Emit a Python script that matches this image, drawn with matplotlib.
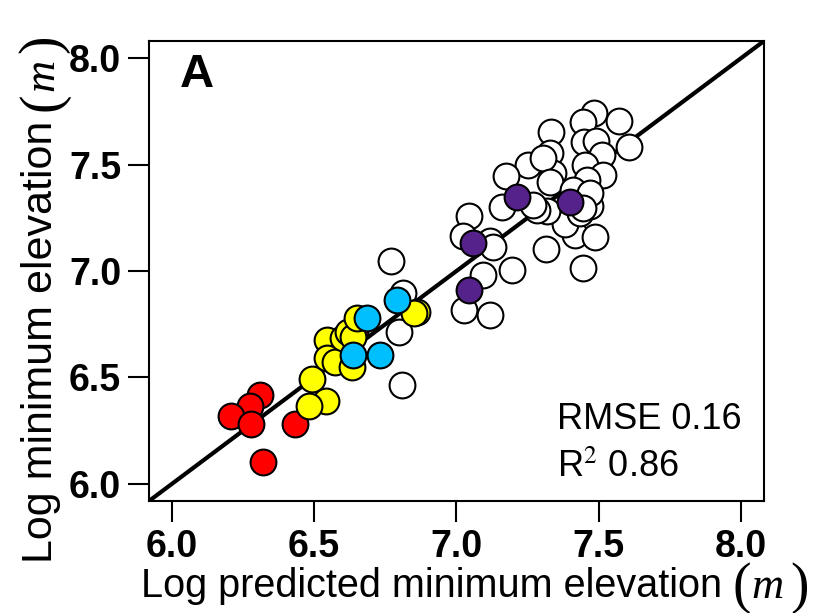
import matplotlib
matplotlib.use("Agg")
import matplotlib.pyplot as plt
from matplotlib.transforms import IdentityTransform

plt.rcParams['font.family'] = ['Liberation Sans', 'DejaVu Sans']
plt.rcParams['mathtext.fontset'] = 'stix'

# Data (log predicted, log observed) by group
red_x = [6.645, 6.310, 6.275, 6.208, 6.278, 6.433, 6.320]
red_y = [6.715, 6.418, 6.366, 6.319, 6.282, 6.282, 6.103]

yellow_x = [6.492, 6.541, 6.482, 6.545, 6.545, 6.573, 6.601, 6.618, 6.636, 6.632, 6.650, 6.861, 6.850]
yellow_y = [6.493, 6.390, 6.366, 6.676, 6.592, 6.573, 6.685, 6.714, 6.690, 6.549, 6.779, 6.808, 6.803]

blue_x = [6.686, 6.636, 6.731, 6.791]
blue_y = [6.779, 6.606, 6.606, 6.864]

white_x = [6.769, 6.811, 6.797, 6.808, 7.043, 7.022, 7.117, 7.127, 7.092, 7.194,
           7.026, 7.117, 7.313, 7.443, 7.415, 7.485, 7.380, 7.317, 7.282, 7.159,
           7.433, 7.468, 7.482, 7.443, 7.570, 7.331, 7.447, 7.489, 7.605, 7.327,
           7.510, 7.250, 7.450, 7.513, 7.173, 7.338, 7.303, 7.457, 7.327, 7.408,
           7.468, 7.443, 7.268]
white_y = [7.047, 6.897, 6.714, 6.465, 7.258, 7.164, 7.141, 7.113, 6.981, 7.005,
           6.817, 6.793, 7.103, 7.014, 7.169, 7.160, 7.221, 7.282, 7.286, 7.300,
           7.272, 7.305, 7.742, 7.700, 7.704, 7.653, 7.606, 7.610, 7.582, 7.554,
           7.545, 7.498, 7.498, 7.451, 7.446, 7.460, 7.531, 7.427, 7.418, 7.380,
           7.366, 7.296, 7.310]

purple_x = [7.212, 7.398, 7.057, 7.043]
purple_y = [7.347, 7.324, 7.131, 6.911]

ticks = [6.0, 6.5, 7.0, 7.5, 8.0]
tick_labels = ["6.0", "6.5", "7.0", "7.5", "8.0"]
lims = (5.92, 8.08)
xlabel_main = "Log predicted minimum elevation"
ylabel_main = "Log minimum elevation"
unit = "m"

W, H = 819, 613
fig = plt.figure(figsize=(W / 100, H / 100), dpi=100)
ax = fig.add_axes([149/W, 112/H, 615/W, 460/H])

ax.plot(lims, lims, color='black', lw=3, zorder=1, solid_capstyle='butt')

s = 345
ew = 1.5
ax.scatter(white_x, white_y, s=s, facecolor='white', edgecolor='black', linewidths=ew, zorder=2)
ax.scatter(red_x, red_y, s=s, facecolor='#FF0000', edgecolor='black', linewidths=ew, zorder=3)
ax.scatter(yellow_x, yellow_y, s=s, facecolor='#FFFF00', edgecolor='black', linewidths=ew, zorder=4)
ax.scatter(blue_x, blue_y, s=s, facecolor='#00BFFF', edgecolor='black', linewidths=ew, zorder=5)
ax.scatter(purple_x, purple_y, s=s, facecolor='#55228B', edgecolor='black', linewidths=ew, zorder=6)

ax.set_xlim(lims)
ax.set_ylim(lims)
ax.set_xticks(ticks)
ax.set_xticklabels(tick_labels, fontsize=27, fontweight='bold')
ax.set_yticks(ticks)
ax.set_yticklabels(tick_labels, fontsize=27, fontweight='bold')
ax.tick_params(length=15, width=1.5, pad=5, color='black')
for sp in ax.spines.values():
    sp.set_linewidth(1.5)

ax.text(0.078, 0.926, "A", transform=ax.transAxes, fontsize=34, fontweight='bold',
        ha='center', va='center')
ax.text(0.663, 0.178, "RMSE 0.16", transform=ax.transAxes, fontsize=26, ha='left', va='center')
ax.text(0.663, 0.073, r"R$^2$ 0.86", transform=ax.transAxes, fontsize=26, ha='left', va='center')

# ---- composite axis labels: sans text + large serif parentheses with italic m
renderer = fig.canvas.get_renderer()
idt = IdentityTransform()
paren_kw = dict(fontsize=40, family='Liberation Serif')
m_kw = dict(fontsize=32, family='Liberation Serif', style='italic')

# x label (horizontal), display coords origin bottom-left
xb = H - 597  # baseline
t = fig.text(141, xb, xlabel_main, fontsize=28.5, ha='left', va='baseline', transform=idt)
x1 = t.get_window_extent(renderer).x1 + 10
t = fig.text(x1, xb - 5, "(", ha='left', va='baseline', transform=idt, **paren_kw)
x1 = t.get_window_extent(renderer).x1 + 1
t = fig.text(x1, xb - 1, unit, ha='left', va='baseline', transform=idt, **m_kw)
x1 = t.get_window_extent(renderer).x1 + 6
fig.text(x1, xb - 5, ")", ha='left', va='baseline', transform=idt, **paren_kw)

# y label (rotated 90)
yb = 52  # baseline x position in pixels
rot = dict(rotation=90, rotation_mode='anchor', ha='left', va='baseline', transform=idt)
t = fig.text(yb, H - 563, ylabel_main, fontsize=31, **rot)
y1 = t.get_window_extent(renderer).y1 + 10
t = fig.text(yb + 5, y1, "(", **rot, **paren_kw)
y1 = t.get_window_extent(renderer).y1 + 1
t = fig.text(yb + 1, y1, unit, **rot, **m_kw)
y1 = t.get_window_extent(renderer).y1 + 6
fig.text(yb + 5, y1, ")", **rot, **paren_kw)

fig.savefig("out.png", dpi=100)
